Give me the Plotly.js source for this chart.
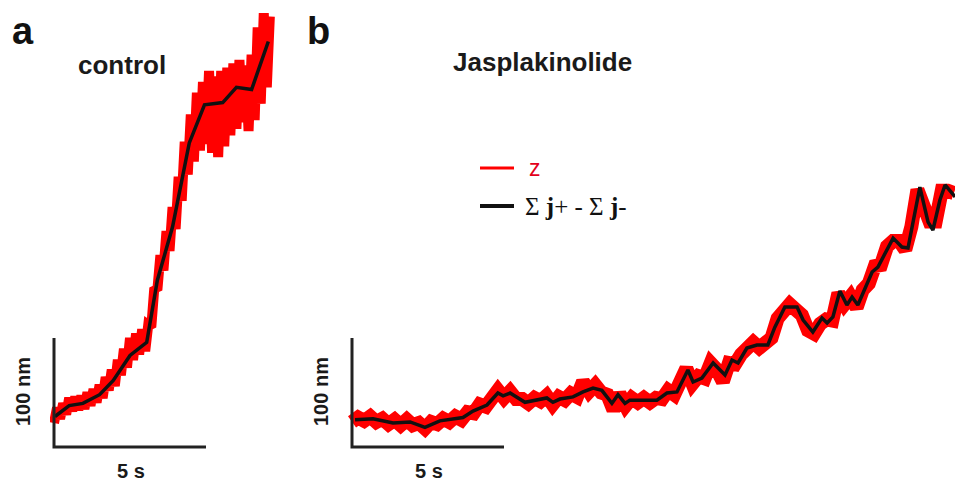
<!DOCTYPE html>
<html><head><meta charset="utf-8">
<script src="https://cdn.plot.ly/plotly-3.0.1.min.js"></script>
<style>html,body{margin:0;padding:0;background:#fff}#chart{width:955px;height:485px}</style>
</head><body><div id="chart"></div>
<script>
// Panel a (control): time in s, displacement in nm
const ctrlTimeZ = [0.0,0.1,0.2,0.3,0.4,0.5,0.6,0.7,0.8,0.9,1.0,1.1,1.2,1.3,1.4,1.5,1.6,1.7,1.8,1.9,2.0,2.1,2.2,2.3,2.4,2.5,2.6,2.7,2.8,2.9,3.0,3.1,3.2,3.3,3.4,3.5,3.6,3.7,3.8,3.9,4.0,4.1,4.2,4.3,4.4,4.5,4.6,4.7,4.8,4.9,5.0,5.1,5.2,5.3,5.4,5.5,5.6,5.7,5.8,5.9,6.0,6.1,6.2,6.3,6.4,6.5,6.6,6.7,6.8,6.9,7.0,7.1];
const ctrlZ = [22,36,26,40,30,45,33,46,34,47,35,50,38,53,41,57,45,64,52,71,56,80,66,90,73,100,80,104,85,108,88,112,110,146,144,176,162,198,180,220,200,248,226,280,250,305,262,325,272,335,278,345,270,340,266,345,276,348,286,352,292,355,298,350,290,360,300,385,315,398,330,395];
const ctrlTimeJ = [0.03,0.5,0.95,1.5,1.95,2.5,3.05,3.4,3.9,4.45,4.95,5.55,6.0,6.5,7.05];
const ctrlJ = [28,38,40,48,61,84,96,153,202,279,314,316,330,328,372];

// Panel b (Jasplakinolide)
const jaspTimeZ = [0.0,0.2,0.4,0.6,0.8,1.0,1.2,1.4,1.6,1.8,2.0,2.2,2.4,2.6,2.8,3.0,3.2,3.4,3.6,3.8,4.0,4.2,4.4,4.6,4.8,5.0,5.2,5.4,5.6,5.8,6.0,6.2,6.4,6.6,6.8,7.0,7.2,7.4,7.6,7.8,8.0,8.2,8.4,8.6,8.8,9.0,9.2,9.4,9.6,9.8,10.0,10.2,10.4,10.6,10.8,11.0,11.2,11.4,11.6,11.8,12.0,12.2,12.4,12.6,12.8,13.0,13.2,13.4,13.6,13.8,14.0,14.2,14.4,14.6,14.8,15.0,15.2,15.4,15.6,15.8,16.0,16.2,16.4,16.6,16.8,17.0,17.2,17.4,17.6,17.8,18.0,18.2,18.4,18.6,18.8,19.0,19.2,19.4,19.6,19.8];
const jaspZ = [23,27,24,28,23,26,21,25,20,25,20,22,17,23,21,26,23,28,25,32,31,39,37,47,52,45,51,44,44,40,45,42,47,39,46,43,49,46,60,51,57,50,48,34,49,38,45,41,45,41,45,44,52,48,60,72,58,65,63,77,71,60,77,76,85,89,96,91,97,100,118,124,131,126,121,107,104,113,117,116,141,131,138,128,144,150,166,167,184,189,189,181,202,236,221,207,207,235,235,233];
const jaspTimeJ = [0.10,0.69,1.35,1.91,2.40,2.89,3.65,3.98,4.44,4.80,4.97,5.20,5.69,6.41,6.61,6.84,7.27,7.60,7.93,8.22,8.55,8.75,8.98,9.14,10.03,10.36,10.69,11.05,11.22,11.51,11.88,12.27,12.50,12.70,12.99,13.32,13.68,13.91,14.24,14.64,14.84,15.16,15.46,15.63,15.82,16.05,16.28,16.45,16.64,17.11,17.30,17.80,18.09,18.29,18.68,18.95,19.11,19.34,19.51,19.84];
const jaspJ = [25,26,22,23,18,24,27,33,38.5,49.5,47,49.5,41,45,41,44,46,50.5,54,52,40,48,40,43,43,49.5,50.5,70.6,59.6,63.3,77.1,66.1,79.8,77.1,90.8,93.6,93.6,110,128.4,128.4,116.5,105.5,118.3,113.8,119.3,143.1,130.3,137.6,130.3,160.6,165.1,191.7,183.5,182.6,238.5,206.4,199.1,226.6,240.4,229.4];

// Scale bars: 5 s and 100 nm
const barTime = [0,0,5];
const barLen = [100,0,0];

const RED = '#ff0000', BLK = '#111111';
const traces = [
  {x: ctrlTimeZ, y: ctrlZ, xaxis:'x', yaxis:'y', mode:'lines', line:{color:RED, width:10}, hoverinfo:'skip'},
  {x: ctrlTimeJ, y: ctrlJ, xaxis:'x', yaxis:'y', mode:'lines', line:{color:BLK, width:3.5}, hoverinfo:'skip'},
  {x: barTime, y: barLen, xaxis:'x', yaxis:'y', mode:'lines', line:{color:'#222', width:3}, hoverinfo:'skip'},
  {x: jaspTimeZ, y: jaspZ, xaxis:'x2', yaxis:'y2', mode:'lines', line:{color:RED, width:14}, hoverinfo:'skip'},
  {x: jaspTimeJ, y: jaspJ, xaxis:'x2', yaxis:'y2', mode:'lines', line:{color:BLK, width:3.5}, hoverinfo:'skip'},
  {x: barTime, y: barLen, xaxis:'x2', yaxis:'y2', mode:'lines', line:{color:'#222', width:3}, hoverinfo:'skip'}
];

const hidden = {showgrid:false, zeroline:false, showline:false, showticklabels:false, ticks:''};
const SANS = 'Liberation Sans, Arial, sans-serif';
function ann(text, px, py, size, extra) {
  return Object.assign({text:text, xref:'paper', yref:'paper', x:px/955, y:(485-py)/485,
    xanchor:'center', yanchor:'middle', showarrow:false,
    font:{family:SANS, size:size, color:'#1a1a1a'}}, extra || {});
}
const layout = {
  width:955, height:485, margin:{l:0,r:0,t:0,b:0},
  paper_bgcolor:'#fff', plot_bgcolor:'rgba(0,0,0,0)', showlegend:false,
  xaxis: Object.assign({domain:[50/955, 282/955], range:[-0.1316, 7.5]}, hidden),
  yaxis: Object.assign({domain:[0.0701, 0.9959], range:[-3.67, 408.3]}, hidden),
  xaxis2: Object.assign({domain:[348/955, 1], range:[-0.1316, 19.836], anchor:'y2'}, hidden),
  yaxis2: Object.assign({domain:[0.0701, 0.9959], range:[-3.67, 408.3], anchor:'x2'}, hidden),
  shapes: [
    {type:'line', xref:'paper', yref:'paper', x0:480/955, x1:514/955, y0:(485-168)/485, y1:(485-168)/485, line:{color:RED, width:3}},
    {type:'line', xref:'paper', yref:'paper', x0:480/955, x1:514/955, y0:(485-206)/485, y1:(485-206)/485, line:{color:BLK, width:4}}
  ],
  annotations: [
    ann('<b>a</b>', 23, 31, 38, {font:{family:SANS, size:38, color:'#111'}}),
    ann('<b>b</b>', 318, 31, 38, {font:{family:SANS, size:38, color:'#111'}}),
    ann('<b>control</b>', 122, 65, 26),
    ann('<b>Jasplakinolide</b>', 542, 62, 26),
    ann('<b>100 nm</b>', 23, 392, 20, {textangle:-90}),
    ann('<b>100 nm</b>', 321, 392, 20, {textangle:-90}),
    ann('<b>5 s</b>', 131, 471, 20),
    ann('<b>5 s</b>', 429, 471, 20),
    ann('z', 527, 168, 23, {xanchor:'left', font:{family:SANS, size:23, color:'#e3001b'}}),
    ann('Σ <b>j</b>+ - Σ <b>j</b>-', 523, 206, 25, {xanchor:'left', font:{family:'Liberation Serif, Times New Roman, serif', size:25, color:'#111'}})
  ]
};
Plotly.newPlot('chart', traces, layout, {staticPlot:true, displayModeBar:false});
</script></body></html>
